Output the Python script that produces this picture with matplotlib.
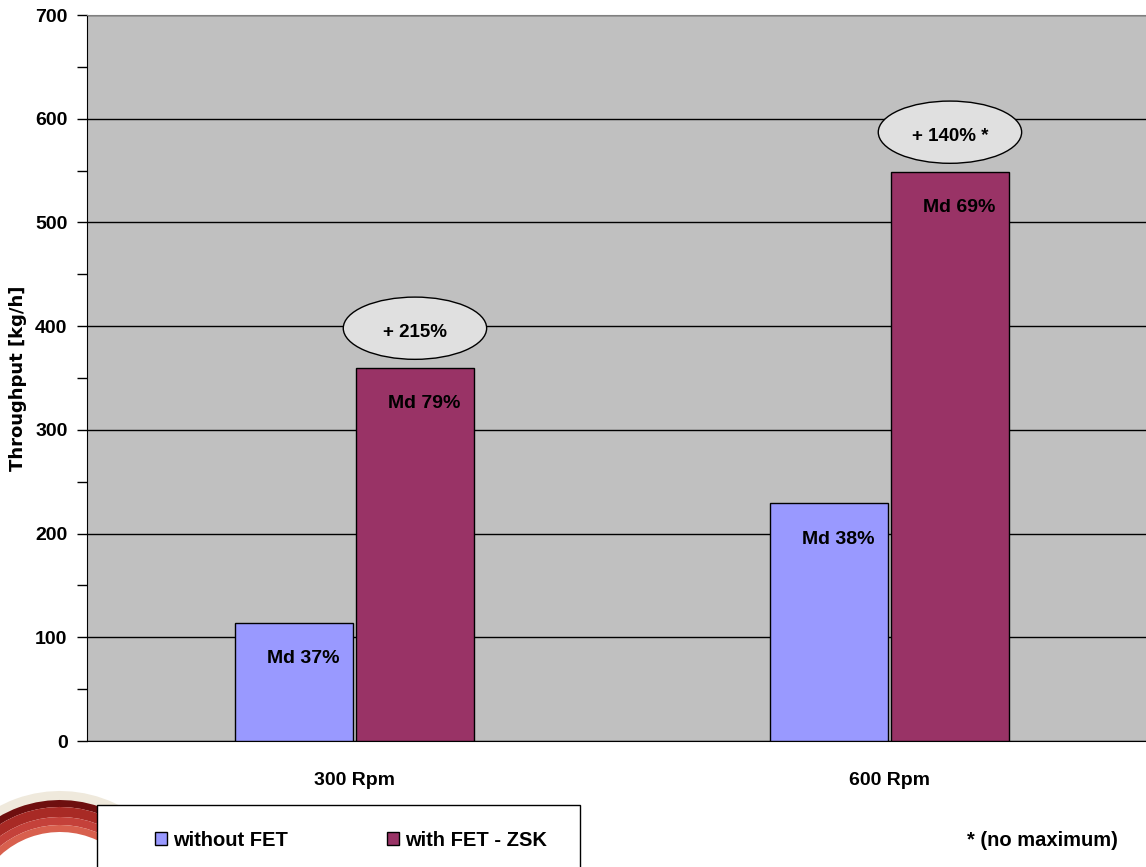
import matplotlib
matplotlib.use("Agg")
import matplotlib.pyplot as plt
from matplotlib.patches import Ellipse, Rectangle, Wedge
import numpy as np

categories = ["300 Rpm", "600 Rpm"]
series_names = ["without FET", "with FET - ZSK"]
without_fet = [114, 229]
with_fet = [360, 549]
md_without = ["Md 37%", "Md 38%"]
md_with = ["Md 79%", "Md 69%"]
gain_labels = ["+ 215%", "+ 140% *"]
footnote = "* (no maximum)"

SANS = ["Liberation Sans", "DejaVu Sans"]
WIDE = ["DejaVu Sans"]

W, H = 1146, 867
fig = plt.figure(figsize=(W / 100, H / 100), dpi=100)
fig.patch.set_facecolor("white")

ax = fig.add_axes([87 / W, (H - 741) / H, 1070 / W, 726 / H])
ax.set_facecolor("#C0C0C0")

x = np.arange(len(categories))
bw = 0.222
off = 0.113
c_without = "#9999FF"
c_with = "#993366"

ax.set_ylim(0, 700)
ax.set_xlim(-0.5, 1.5)
ax.set_yticks(np.arange(0, 701, 100))
ax.set_yticks(np.arange(0, 701, 50), minor=True)
ax.yaxis.grid(True, color="black", linewidth=1.0)
ax.set_axisbelow(True)

b1 = ax.bar(x - off, without_fet, bw, color=c_without, edgecolor="black",
            linewidth=1.0, label=series_names[0], zorder=3)
b2 = ax.bar(x + off, with_fet, bw, color=c_with, edgecolor="black",
            linewidth=1.0, label=series_names[1], zorder=3)

# torque labels inside the bars
for i in range(len(categories)):
    ax.annotate(md_without[i], (x[i] - off, without_fet[i]), xytext=(9, -36),
                textcoords="offset pixels", ha="center", va="center",
                fontsize=14, fontweight="bold", family=SANS, zorder=5)
    ax.annotate(md_with[i], (x[i] + off, with_fet[i]), xytext=(9, -36),
                textcoords="offset pixels", ha="center", va="center",
                fontsize=14, fontweight="bold", family=SANS, zorder=5)

# gain callouts above the FET bars
for i in range(len(categories)):
    cx = x[i] + off
    cy = with_fet[i] + 38
    ax.add_patch(Ellipse((cx, cy), 0.268, 60, facecolor="#E0E0E0",
                         edgecolor="black", linewidth=1.0, zorder=4))
    ax.text(cx, cy - 4, gain_labels[i], ha="center", va="center",
            fontsize=13.5, fontweight="bold", family=SANS, zorder=5)

for s in ["left", "bottom"]:
    ax.spines[s].set_color("black")
ax.spines["top"].set_color("#808080")
ax.spines["right"].set_visible(False)

ax.set_xticks(x)
ax.set_xticklabels(categories, fontsize=14, fontweight="bold", family=SANS)
ax.tick_params(axis="x", length=0, pad=22)
ax.tick_params(axis="y", which="both", length=7, width=1, color="black",
               labelsize=14, pad=7)
for lab in ax.get_yticklabels():
    lab.set_fontweight("bold")
    lab.set_family(SANS)

ax.set_ylabel("Throughput [kg/h]", fontsize=13, fontweight="bold",
              family=WIDE)
ax.yaxis.set_label_coords((27 - 87) / 1070, 0.5)

# decorative ring at the lower left
def px(xp, yp):
    return (xp / 100, (H - yp) / 100)

ring_c = px(60, 920)
rings = [(1.29, 0.10, "#EFE9DC"),
         (1.20, 0.07, "#6E0F0F"),
         (1.13, 0.10, "#A82A25"),
         (1.03, 0.08, "#C4413A"),
         (0.95, 0.07, "#D8604E")]
for r, w, c in rings:
    fig.patches.append(Wedge(ring_c, r, 20, 200, width=w, facecolor=c,
                             edgecolor="none", transform=fig.dpi_scale_trans,
                             zorder=1))

# legend box running off the bottom edge
fig.patches.append(Rectangle(px(97, 890), (580 - 97) / 100, (890 - 805) / 100,
                             facecolor="white", edgecolor="black",
                             linewidth=1.0, transform=fig.dpi_scale_trans,
                             zorder=2))
leg = fig.legend(handles=[b1, b2], labels=series_names, ncol=2,
                 loc="center left", bbox_to_anchor=(145 / W, (H - 840) / H),
                 frameon=False, borderpad=0, handlelength=0.6,
                 handleheight=0.6, handletextpad=0.3, columnspacing=4.9,
                 prop={"family": SANS, "weight": "bold", "size": 14.5})
leg.set_zorder(3)

fig.text(1118 / W, (H - 841) / H, footnote, ha="right", va="center",
         fontsize=14.5, fontweight="bold", family=SANS)

fig.savefig("out.png", dpi=100)
